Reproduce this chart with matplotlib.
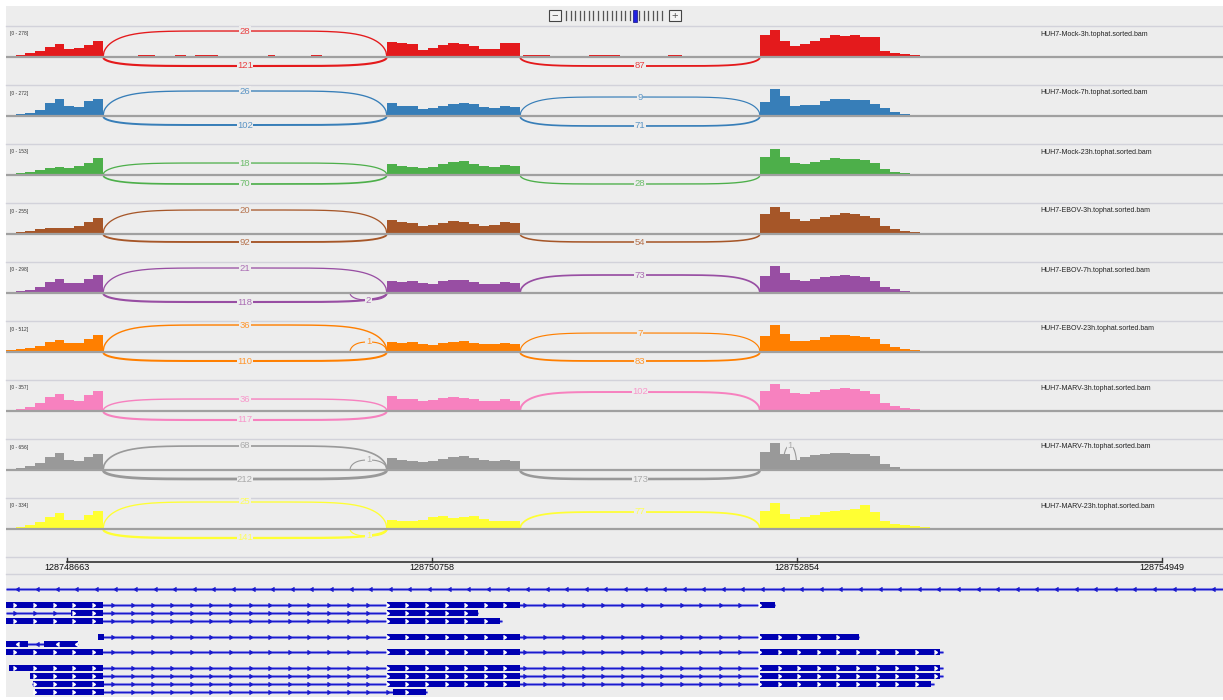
import numpy as np
import matplotlib.pyplot as plt
from matplotlib.patches import Rectangle
from matplotlib.colors import to_rgb

plt.rcParams['font.family'] = ['Liberation Sans', 'DejaVu Sans']

W, H = 1223, 700
BG = '#ededed'

# ---- data ----
samples = ['HUH7-Mock-3h', 'HUH7-Mock-7h', 'HUH7-Mock-23h',
           'HUH7-EBOV-3h', 'HUH7-EBOV-7h', 'HUH7-EBOV-23h',
           'HUH7-MARV-3h', 'HUH7-MARV-7h', 'HUH7-MARV-23h']
data_range = [278, 272, 153, 255, 298, 512, 357, 656, 334]
colors = ['#e41a1c', '#377eb8', '#4daf4a', '#a65628', '#984ea3',
          '#ff7f00', '#f781bf', '#999999', '#ffff33']

view = (128748313, 128755300)
ruler_ticks = [128748663, 128750758, 128752854, 128754949]

exon1_bins = np.linspace(128748313, 128748870, 11)
exon2_bins = np.linspace(128750500, 128751264, 14)
exon3_bins = np.linspace(128752642, 128753675, 19)

cov_exon1 = [
    [10, 20, 40, 60, 100, 130, 80, 90, 120, 160],
    [10, 20, 30, 60, 125, 165, 95, 85, 145, 165],
    [5, 11, 16, 27, 38, 44, 38, 49, 66, 93],
    [9, 18, 27, 45, 55, 55, 55, 73, 109, 146],
    [11, 21, 32, 64, 117, 149, 106, 106, 149, 191],
    [37, 55, 73, 110, 183, 220, 165, 165, 238, 311],
    [13, 26, 51, 102, 179, 217, 140, 128, 204, 255],
    [23, 47, 94, 164, 304, 398, 234, 211, 304, 375],
    [0, 24, 48, 83, 143, 191, 107, 107, 167, 214],
]
cov_exon2 = [
    [150, 140, 130, 70, 90, 120, 140, 130, 110, 80, 80, 140, 140],
    [125, 95, 95, 70, 80, 95, 115, 125, 115, 85, 80, 95, 85],
    [60, 49, 44, 38, 44, 60, 71, 76, 60, 49, 44, 55, 49],
    [127, 109, 100, 73, 82, 100, 118, 109, 91, 73, 82, 109, 100],
    [128, 117, 128, 106, 96, 128, 138, 138, 117, 96, 96, 117, 106],
    [183, 165, 183, 146, 128, 165, 183, 201, 165, 146, 146, 165, 146],
    [191, 153, 153, 128, 140, 166, 179, 166, 153, 128, 128, 153, 128],
    [281, 234, 211, 187, 211, 258, 304, 328, 281, 234, 211, 234, 211],
    [107, 95, 95, 107, 143, 155, 131, 143, 155, 119, 95, 95, 95],
]
cov_exon3 = [
    [220, 270, 160, 110, 130, 160, 190, 220, 210, 220, 200, 200, 60, 40, 30, 20, 10, 10],
    [135, 262, 195, 95, 105, 105, 145, 165, 165, 155, 155, 115, 80, 40, 20, 10, 10, 0],
    [98, 142, 98, 66, 60, 71, 82, 93, 87, 87, 82, 66, 33, 16, 11, 5, 0, 0],
    [182, 246, 200, 137, 118, 137, 155, 173, 191, 182, 164, 146, 73, 45, 27, 18, 9, 0],
    [181, 287, 213, 138, 128, 149, 170, 181, 191, 181, 170, 128, 64, 43, 21, 11, 0, 0],
    [293, 494, 329, 201, 201, 220, 274, 311, 311, 293, 274, 238, 146, 91, 55, 37, 18, 18],
    [255, 344, 281, 230, 217, 242, 268, 281, 293, 281, 255, 217, 102, 64, 38, 26, 13, 0],
    [421, 632, 375, 234, 304, 351, 375, 398, 398, 375, 375, 328, 140, 70, 23, 0, 0, 0],
    [214, 310, 179, 119, 143, 167, 202, 214, 226, 238, 286, 202, 95, 60, 48, 36, 24, 12],
]

intron_blips = [(128749071, 128749168), (128749283, 128749346), (128749398, 128749530),
                (128749817, 128749857), (128750064, 128750127), (128751281, 128751436),
                (128751660, 128751838), (128752113, 128752194)]
blip_reads = [15, 10, 5, 10, 11, 18, 13, 23, 6]

JA = (128748870, 128750500)
JB = (128751264, 128752642)
JS = (128750288, 128750500)
JT = (128752773, 128752854)

# (start, end, count, side)
junctions = [
    [(*JA, 28, 1), (*JA, 121, -1), (*JB, 87, -1)],
    [(*JA, 26, 1), (*JA, 102, -1), (*JB, 9, 1), (*JB, 71, -1)],
    [(*JA, 18, 1), (*JA, 70, -1), (*JB, 28, -1)],
    [(*JA, 20, 1), (*JA, 92, -1), (*JB, 54, -1)],
    [(*JA, 21, 1), (*JA, 118, -1), (*JS, 2, -1), (*JB, 73, 1)],
    [(*JA, 36, 1), (*JA, 110, -1), (*JS, 1, 1), (*JB, 7, 1), (*JB, 83, -1)],
    [(*JA, 36, 1), (*JA, 117, -1), (*JB, 102, 1)],
    [(*JA, 68, 1), (*JA, 212, -1), (*JS, 1, 1), (*JB, 173, -1), (*JT, 1, 1)],
    [(*JA, 25, 1), (*JA, 141, -1), (*JS, 1, -1), (*JB, 77, 1)],
]
# arc apex height in pixels (layout)
arc_px = [
    [26, 9, 9],
    [25, 9, 19, 10],
    [12, 9, 9],
    [24, 8, 8],
    [25, 9, 7, 18],
    [27, 9, 10, 19, 9],
    [12, 9, 19],
    [24, 9, 10, 9, 24],
    [27, 9, 7, 17],
]

# transcripts: (span start, span end, strand, exons)
transcripts = [
    (128748313, 128755300, '-', []),
    (128748313, 128752728, '+', [(128748313, 128748870), (128750500, 128751264), (128752642, 128752728)]),
    (128748313, 128751023, '+', [(128748686, 128748870), (128750500, 128751023)]),
    (128748313, 128751160, '+', [(128748313, 128748870), (128750500, 128751149)]),
    (128748841, 128753210, '+', [(128748841, 128748875), (128750500, 128751264), (128752642, 128753210)]),
    (128748313, 128748726, '-', [(128748313, 128748439), (128748531, 128748726)]),
    (128748313, 128753690, '+', [(128748313, 128748870), (128750500, 128751264), (128752642, 128753675)]),
    (128748330, 128753690, '+', [(128748330, 128748870), (128750500, 128751264), (128752642, 128753675)]),
    (128748451, 128753690, '+', [(128748451, 128748870), (128750500, 128751264), (128752642, 128753675)]),
    (128748460, 128753640, '+', [(128748468, 128748875), (128750500, 128751264), (128752642, 128753623)]),
    (128748479, 128750730, '+', [(128748479, 128748875), (128750535, 128750724)]),
]
transcript_rows = [589, 605, 613, 621, 637, 644, 652, 668, 676, 684, 692]


def px_axes(fig, top, bottom, left=6, right=W):
    return fig.add_axes([left / W, 1 - bottom / H, (right - left) / W, (bottom - top) / H])


def lighten(c, f=0.3):
    r = np.array(to_rgb(c))
    return tuple(r + (1 - r) * f)


fig = plt.figure(figsize=(W / 100, H / 100), dpi=100)

# background / chrome
bg = fig.add_axes([0, 0, 1, 1])
bg.set_xlim(0, W)
bg.set_ylim(H, 0)
bg.axis('off')
bg.add_patch(Rectangle((6, 6), W - 6, H - 9, fc=BG, ec='none'))
for i in range(10):
    y = 26 + 59 * i
    bg.plot([6, W], [y, y], color='#d2d2da', lw=1)
bg.plot([6, W], [574, 574], color='#d2d2da', lw=1)
# zoom widget
for bx, sym in [(549, '−'), (669, '+')]:
    bg.add_patch(Rectangle((bx, 10), 12, 11, fc='#f4f4f4', ec='#444', lw=0.8))
    bg.text(bx + 6, 15.5, sym, ha='center', va='center', fontsize=8, color='#555')
for k, tx in enumerate(np.linspace(566, 662, 22)):
    if k == 15:
        bg.add_patch(Rectangle((tx - 2, 10), 4, 12, fc='#2020e0', ec='#101080', lw=0.5))
    else:
        bg.plot([tx, tx], [11, 20], color='#555', lw=0.9)

# coverage tracks
for i, name in enumerate(samples):
    top = 26 + 59 * i
    ax = px_axes(fig, top + 3, top + 59)
    ax.set_xlim(*view)
    rng = data_range[i]
    ax.set_ylim(-rng, rng)
    ax.axis('off')
    col = colors[i]

    for (s, e, cnt, side), apx in zip(junctions[i], arc_px[i]):
        u = np.linspace(0, 1, 300)
        xs = s + (e - s) * u
        hgt = side * apx / 28 * rng
        n = 6 if e - s > 1000 else 2.5
        ys = hgt * np.sqrt(np.clip(1 - np.abs(2 * u - 1) ** n, 0, 1))
        lw = 0.8 + min(cnt, 200) / 200 * 1.2
        ax.plot(xs, ys, color=col, lw=lw, zorder=2, solid_capstyle='butt')
        ax.text((s + e) / 2, hgt, str(cnt), ha='center', va='center', fontsize=6.8,
                color=lighten(col, 0.18), zorder=6,
                bbox=dict(boxstyle='square,pad=0.05', fc=BG, ec='none'))

    for bins, cov in [(exon1_bins, cov_exon1), (exon2_bins, cov_exon2), (exon3_bins, cov_exon3)]:
        ax.stairs(cov[i], bins, fill=True, color=col, lw=0, zorder=3)
    for s, e in intron_blips:
        ax.bar(s, blip_reads[i], width=e - s, align='edge', color=col, lw=0, zorder=3)

    ax.axhline(0, color='#a0a0a0', lw=1.6, zorder=4)
    bg.text(10, top + 8, f'[0 - {rng}]', fontsize=3.5, color='#333', va='center')
    bg.text(1040, top + 8, name + '.tophat.sorted.bam', fontsize=5, color='#222', va='center')

# ruler
rax = px_axes(fig, 555, 575)
rax.set_xlim(*view)
rax.set_ylim(575, 555)
rax.axis('off')
rax.plot([ruler_ticks[0], ruler_ticks[-1]], [561.5, 561.5], color='#333', lw=1.2)
for t in ruler_ticks:
    rax.plot([t, t], [557.5, 561.5], color='#333', lw=1)
    rax.text(t, 567, str(t), ha='center', va='center', fontsize=6.5, color='#111')

# gene annotation
gax = px_axes(fig, 575, 700)
gax.set_xlim(*view)
gax.set_ylim(700, 575)
gax.axis('off')
step = 112.5
for (s, e, strand, exons), y in zip(transcripts, transcript_rows):
    gax.plot([s, e], [y, y], color='#8c8ce6', lw=2.2, solid_capstyle='butt')
    gax.plot([s, e], [y, y], color='#1a1acc', lw=0.8, solid_capstyle='butt')
    mk = 5 if strand == '+' else 4
    pts = np.arange(view[0] + 60, e, step)
    pts = pts[pts > s]
    inside = np.array([any(a <= p <= b for a, b in exons) for p in pts], dtype=bool)
    gax.plot(pts[~inside], [y] * int((~inside).sum()), ls='none', marker=mk, ms=3.2,
             color='#1a1acc')
    for a, b in exons:
        gax.add_patch(Rectangle((a, y - 3), b - a, 6, fc='#0000b2', ec='none', zorder=3))
    gax.plot(pts[inside], [y] * int(inside.sum()), ls='none', marker=mk, ms=2.6,
             color='white', zorder=4)

fig.savefig('out.png', dpi=100, facecolor='white')
